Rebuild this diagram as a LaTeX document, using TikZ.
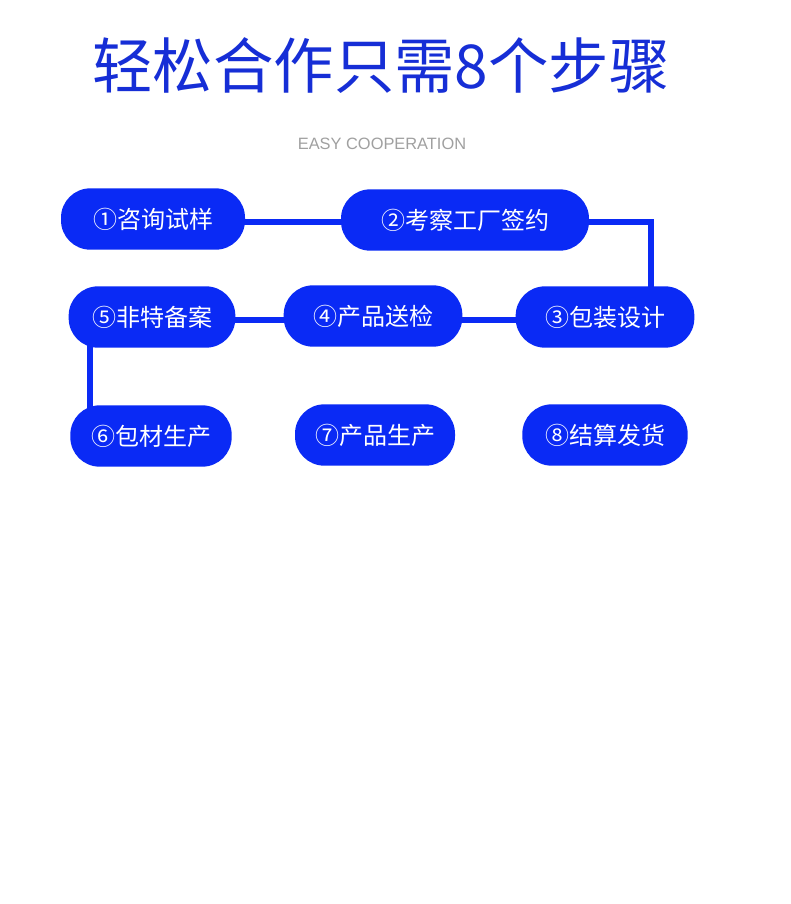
\documentclass[tikz,border=0pt]{standalone}
\usepackage{fontspec}
\setmainfont{Noto Sans CJK SC}
\newfontfamily\latinsans{Liberation Sans}
\usepackage{xcolor}
\usetikzlibrary{backgrounds}
\definecolor{stepblue}{RGB}{10,42,245}
\definecolor{titleblue}{RGB}{22,46,214}
\definecolor{subgray}{RGB}{160,160,160}
\tikzset{
  stepnode/.style={fill=stepblue, rounded corners=22pt, minimum height=46pt, inner sep=0pt,
    text=white, font=\fontsize{18}{21}\selectfont},
  link/.style={draw=stepblue, line width=4.5pt},
  hd/.style={font=\fontsize{45.3}{52}\selectfont, text=titleblue},
  sub/.style={font=\latinsans\fontsize{12.3}{14}\selectfont, text=subgray},
}
\begin{document}
\begin{tikzpicture}[x=0.75pt, y=-0.75pt]
  \useasboundingbox (0,0) rectangle (790,904);
  \node[hd] (title) at (381,66) {轻松合作只需8个步骤};
  \node[sub] (subtitle) at (382,144) {EASY COOPERATION};
  % steps
  \node[stepnode, minimum width=138pt] (s1) at (153,219) {①咨询试样};
  \node[stepnode, minimum width=186pt] (s2) at (465,220) {②考察工厂签约};
  \node[stepnode, minimum width=134pt] (s3) at (605,317) {③包装设计};
  \node[stepnode, minimum width=134pt] (s4) at (373,316) {④产品送检};
  \node[stepnode, minimum width=125pt] (s5) at (152,317) {⑤非特备案};
  \node[stepnode, minimum width=121pt] (s6) at (151,436) {⑥包材生产};
  \node[stepnode, minimum width=120pt] (s7) at (375,435) {⑦产品生产};
  \node[stepnode, minimum width=124pt] (s8) at (605,435) {⑧结算发货};
  % links
  \coordinate (k12) at (0,222);
  \coordinate (k23) at (651,222);
  \coordinate (k35) at (0,320);
  \coordinate (k56) at (90,0);
  \begin{scope}[on background layer]
    \fill[white] (0,0) rectangle (790,904);
    \draw[link] (s1 |- k12) -- (s2 |- k12) -- (k23) -- (s3 -| k23);
    \draw[link] (s3 |- k35) -- (s4 |- k35) -- (s5 |- k35);
    \draw[link] (s5 -| k56) -- (s6 -| k56);
  \end{scope}
\end{tikzpicture}
\end{document}
